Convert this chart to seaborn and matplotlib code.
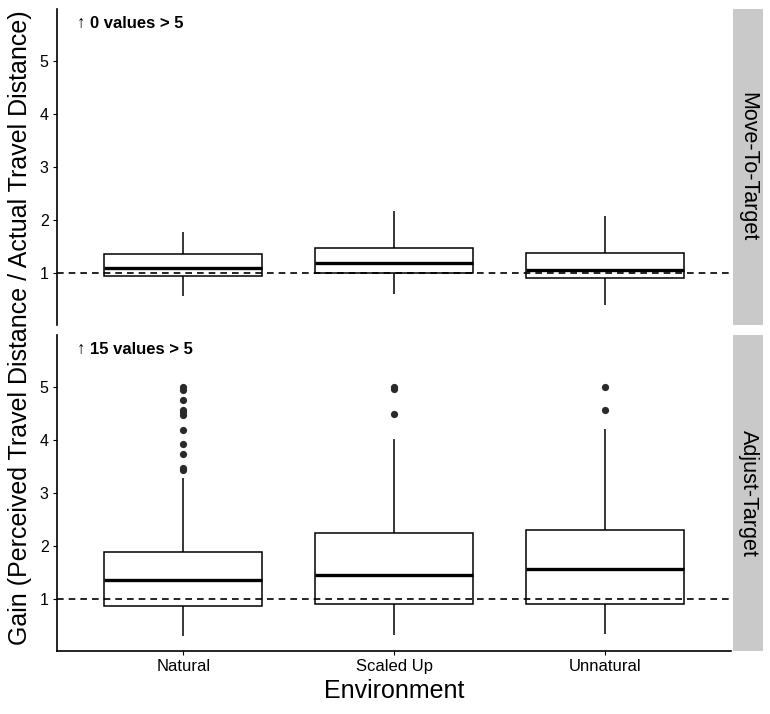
import matplotlib
matplotlib.use("Agg")
import matplotlib.pyplot as plt
import seaborn as sns
import pandas as pd

# Categories and panels
envs = ["Natural", "Scaled Up", "Unnatural"]
tasks = ["Move-To-Target", "Adjust-Target"]

# Five-number summaries: lower whisker, Q1, median, Q3, upper whisker
move_natural = [0.56, 0.94, 1.09, 1.35, 1.77]
move_scaled = [0.61, 1.00, 1.18, 1.48, 2.17]
move_unnatural = [0.39, 0.90, 1.06, 1.38, 2.07]

adjust_natural = [0.30, 0.87, 1.35, 1.89, 3.29]
adjust_scaled = [0.32, 0.91, 1.46, 2.25, 4.02]
adjust_unnatural = [0.35, 0.91, 1.56, 2.30, 4.21]

# Outliers (only in Adjust-Target)
out_natural = [5.00, 4.95, 4.75, 4.57, 4.52, 4.47, 4.18, 3.92, 3.74, 3.48, 3.43]
out_scaled = [5.00, 4.96, 4.49]
out_unnatural = [5.00, 4.57]

# Notes in the top-left corner of each panel
notes = ["\u2191 0 values > 5", "\u2191 15 values > 5"]


def long_df(groups):
    rows = []
    for env, vals in zip(envs, groups):
        for v in vals:
            rows.append({"Environment": env, "Gain": v})
    return pd.DataFrame(rows)


box_data = [
    long_df([move_natural, move_scaled, move_unnatural]),
    long_df([adjust_natural, adjust_scaled, adjust_unnatural]),
]
outlier_data = [
    None,
    long_df([out_natural, out_scaled, out_unnatural]),
]

sns.set_theme(style="ticks")
plt.rcParams["font.family"] = ["Liberation Sans", "DejaVu Sans"]
plt.rcParams["text.color"] = "black"
plt.rcParams["axes.labelcolor"] = "black"

W, H = 770, 714
fig = plt.figure(figsize=(W / 100, H / 100), dpi=100)

# panel pixel boxes (left, top, right, bottom)
panel_px = [(57, 9, 731, 325), (57, 335, 731, 651)]

axes = []
for i, (l, t, r, b) in enumerate(panel_px):
    ax = fig.add_axes([l / W, 1 - b / H, (r - l) / W, (b - t) / H])
    axes.append(ax)

    sns.boxplot(data=box_data[i], x="Environment", y="Gain", order=envs,
                whis=(0, 100), width=0.75, color="white", linecolor="black",
                linewidth=1.1, showcaps=False, medianprops={"linewidth": 2.4}, ax=ax)
    if outlier_data[i] is not None:
        sns.stripplot(data=outlier_data[i], x="Environment", y="Gain", order=envs,
                      jitter=False, color="#2a2a2a", size=5.2, ax=ax)

    ax.axhline(1, color="black", linestyle=(0, (4, 3)), linewidth=1.2, zorder=5)

    ax.set_xlim(-0.6, 2.6)
    ax.set_ylim(0.02, 5.98)
    ax.set_yticks([1, 2, 3, 4, 5])
    ax.tick_params(axis="y", labelsize=11.5, length=3, width=0.8, colors="black", pad=3)
    ax.set_ylabel("")
    ax.set_xlabel("")

    for s in ["top", "right"]:
        ax.spines[s].set_visible(False)
    ax.spines["left"].set_linewidth(1.2)
    ax.spines["bottom"].set_linewidth(1.2)
    ax.spines["left"].set_color("black")
    ax.spines["bottom"].set_color("black")

    ax.text(0.03, 0.955, notes[i], transform=ax.transAxes, fontsize=12,
            fontweight="bold", ha="left", va="center", color="black")

    # facet strip on the right
    sax = fig.add_axes([733 / W, 1 - b / H, 30 / W, (b - t) / H])
    sax.set_facecolor("#c9c9c9")
    sax.set_xticks([])
    sax.set_yticks([])
    for s in sax.spines.values():
        s.set_visible(False)
    sax.text(0.5, 0.5, tasks[i], rotation=-90, ha="center", va="center",
             fontsize=15.5, color="black", transform=sax.transAxes)

# top panel: no x axis
axes[0].spines["bottom"].set_visible(False)
axes[0].tick_params(axis="x", bottom=False, labelbottom=False)

axes[1].tick_params(axis="x", labelsize=12, length=3, width=0.8, colors="black", pad=3)

fig.text(394 / W, 1 - 691 / H, "Environment", ha="center", va="center", fontsize=18)
fig.text(20 / W, 1 - 328 / H, "Gain (Perceived Travel Distance / Actual Travel Distance)",
         rotation=90, ha="center", va="center", fontsize=18)

fig.savefig("out.png", dpi=100, facecolor="white")
